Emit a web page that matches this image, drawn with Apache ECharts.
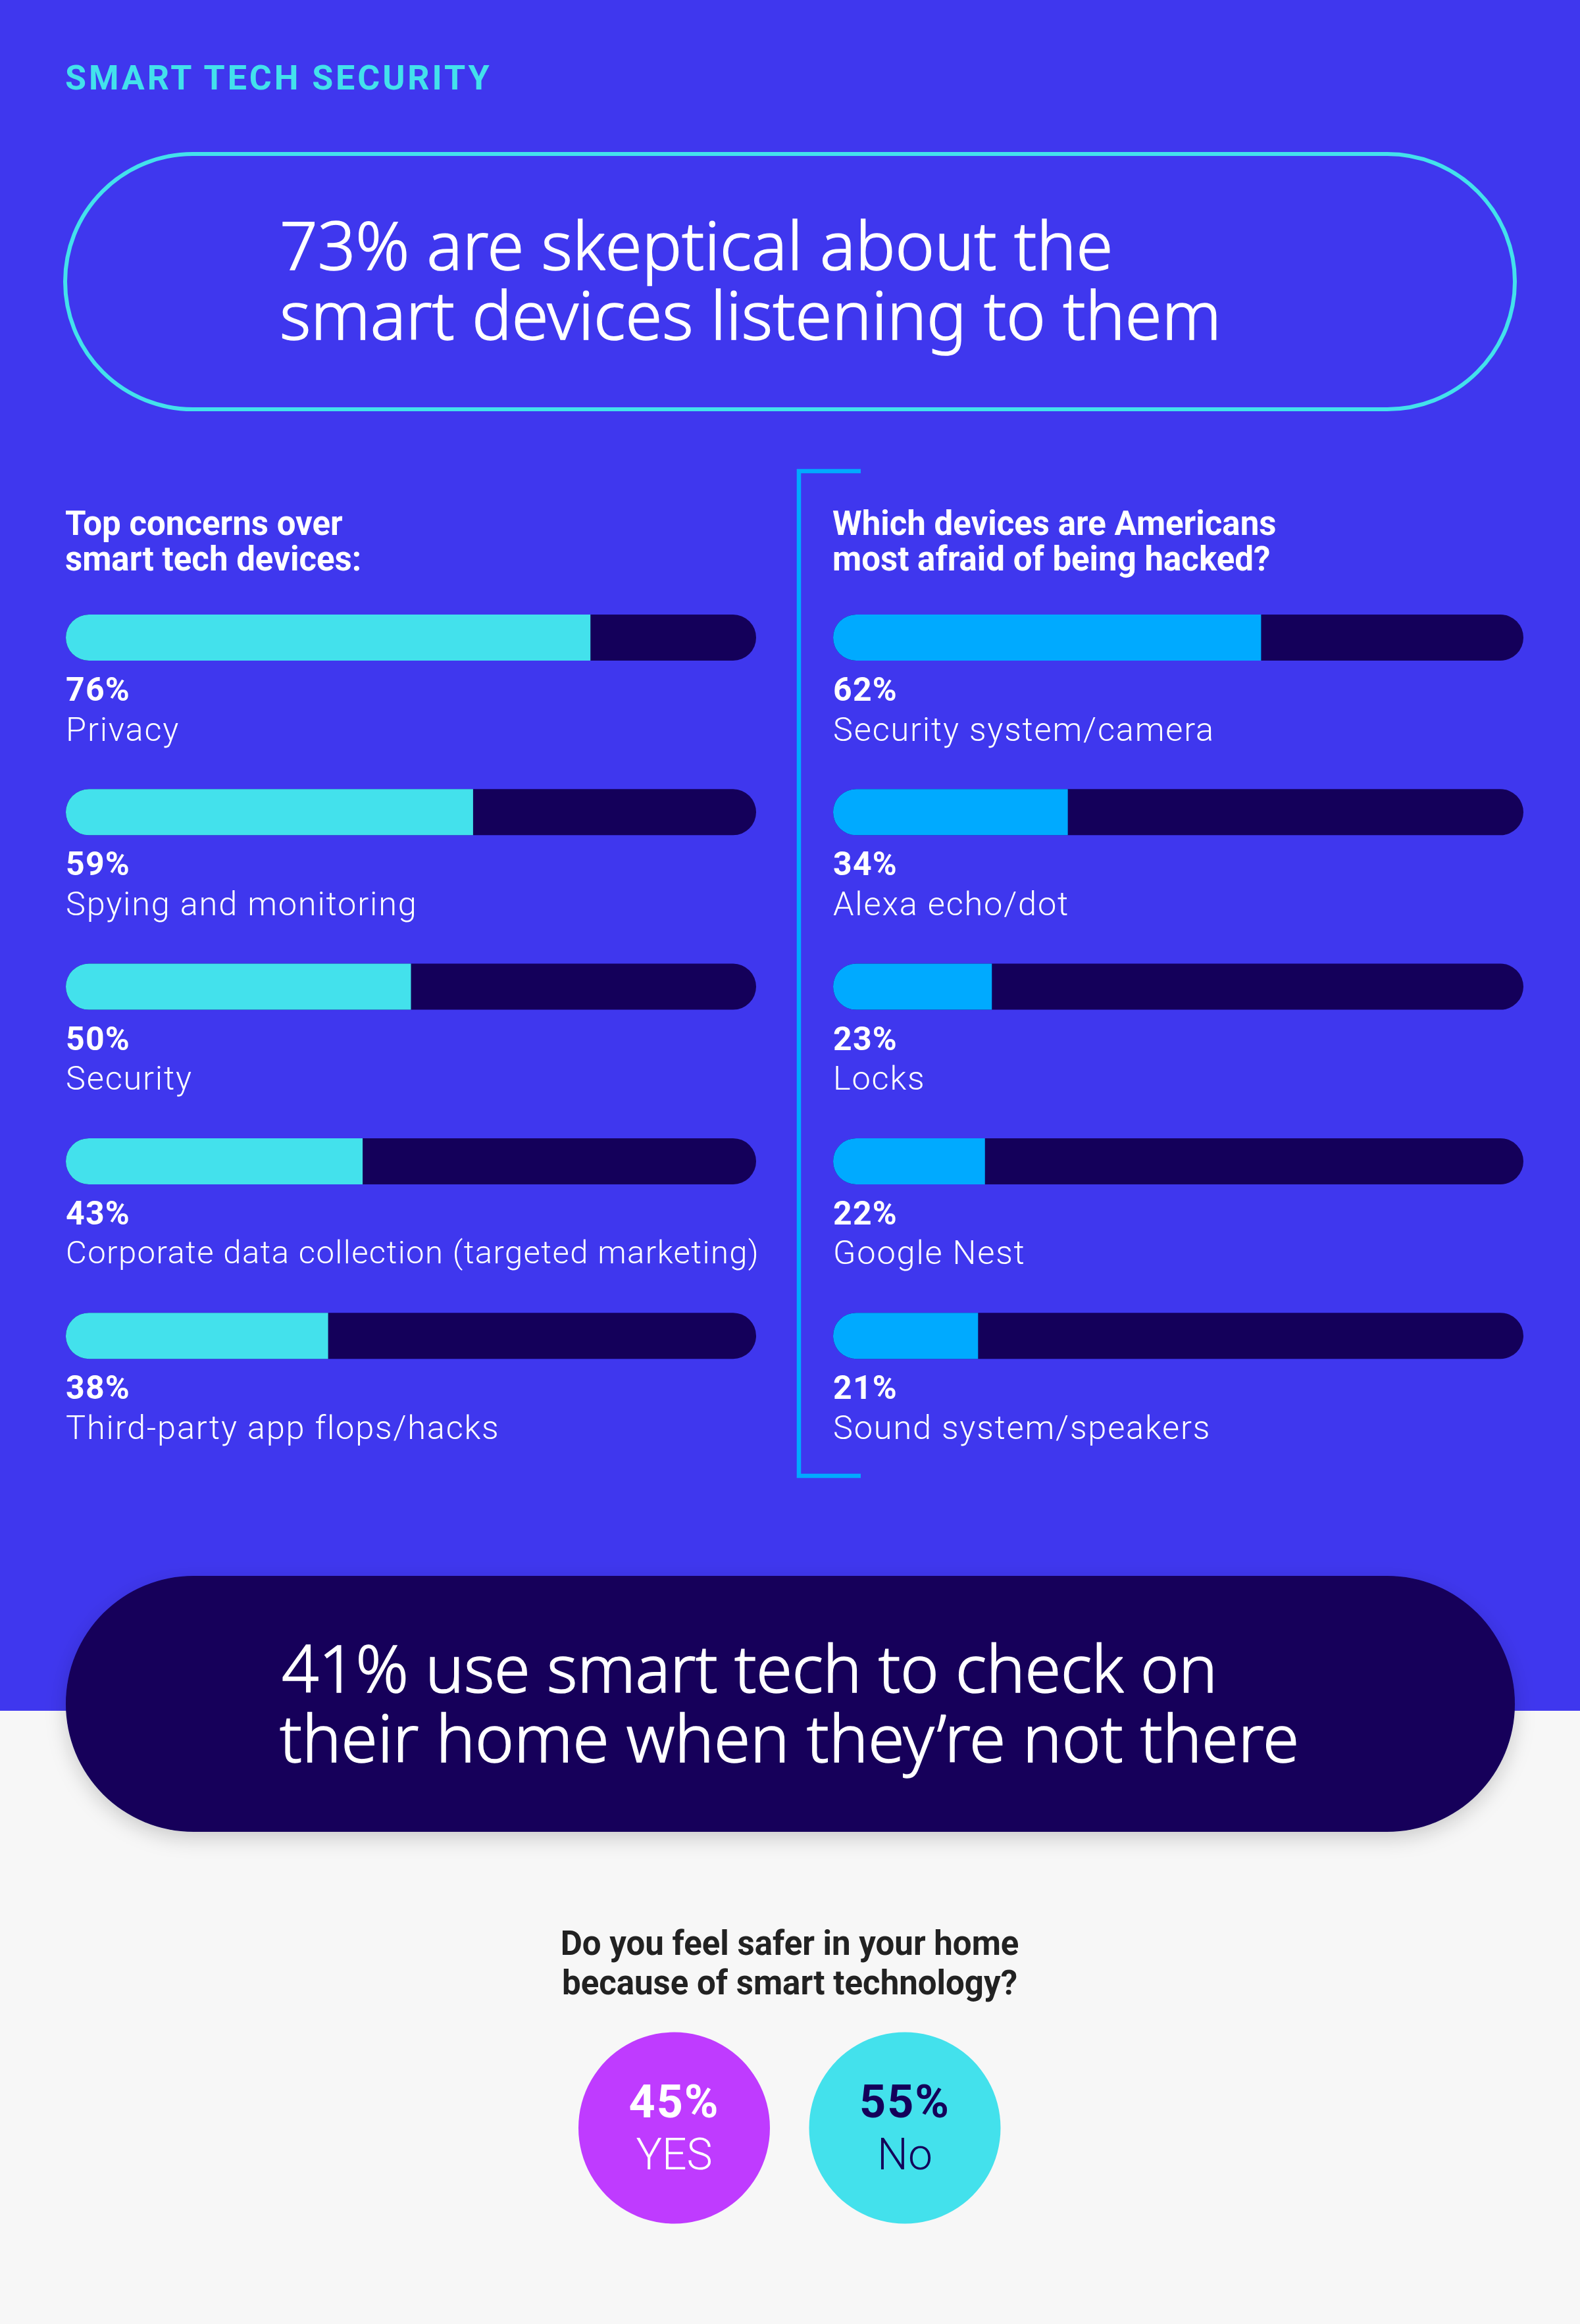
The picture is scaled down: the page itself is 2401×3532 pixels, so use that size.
<!DOCTYPE html>
<html>
<head>
<meta charset="utf-8">
<style>
  html, body { margin: 0; padding: 0; background: #f7f7f7; }
  #chart { width: 2401px; height: 3532px; }
  /* tracking, the svg renderer passes it on to the text nodes */
  #chart text[style*="52px"] { letter-spacing: 3.9px; }
  #chart text[style*=" 50px"] { letter-spacing: 1.2px; }
  #chart text[style*="50.5px"] { letter-spacing: 1.8px; }
  #chart text[style*="49px"] { letter-spacing: 1.4px; }
  #chart text[style*="70px"] { letter-spacing: 2px; }
  #chart text[style*="99px"] { letter-spacing: -0.25px; }
</style>
<script src="https://cdn.jsdelivr.net/npm/echarts@6/dist/echarts.min.js"></script>
</head>
<body>
<div id="chart"></div>
<script>
const concernNames = ['Privacy', 'Spying and monitoring', 'Security', 'Corporate data collection (targeted marketing)', 'Third-party app flops/hacks'];
const concernValues = [76, 59, 50, 43, 38];
const deviceNames = ['Security system/camera', 'Alexa echo/dot', 'Locks', 'Google Nest', 'Sound system/speakers'];
const deviceValues = [62, 34, 23, 22, 21];
const safeNames = ['YES', 'No'];
const safeValues = [45, 55];

const BLUE = '#3f37ee', NAVY = '#14005a', CYAN = '#43e1ec', SKY = '#00aaff', PURPLE = '#bf3bff';
const HEAD_FONT = '"Noto Sans"', BODY_FONT = 'Roboto';

const chart = echarts.init(document.getElementById('chart'), null, {renderer: 'svg'});

// one bar panel: hidden axes, track drawn by showBackground, text under the bar
function panelGrid(left) {
  return {left: left, width: 1049, top: 836.35, height: 1326.5};
}

function barSeries(index, names, values, color) {
  return {
    type: 'bar',
    xAxisIndex: index,
    yAxisIndex: index,
    barWidth: 70,
    showBackground: true,
    backgroundStyle: {color: NAVY, borderRadius: 35},
    itemStyle: {color: color, borderRadius: [35, 0, 0, 35]},
    data: values,
    label: {
      show: true,
      position: [0, 84],
      align: 'left',
      verticalAlign: 'top',
      formatter: (p) => {
        const name = names[p.dataIndex];
        // the long line sits tighter so it stays near the bar width
        const style = name.length > 40 ? 'tight' : 'name';
        return '{pct|' + p.value + '%}\n{' + style + '|' + name + '}';
      },
      rich: {
        pct: {fontFamily: BODY_FONT, fontWeight: 700, fontSize: 50, lineHeight: 60, color: '#fff'},
        name: {fontFamily: BODY_FONT, fontWeight: 300, fontSize: 50.5, lineHeight: 60, color: '#fff'},
        tight: {fontFamily: BODY_FONT, fontWeight: 300, fontSize: 49, lineHeight: 60, color: '#fff'}
      }
    }
  };
}

function safeLabel(color) {
  return {
    rich: {
      pct: {fontFamily: BODY_FONT, fontWeight: 700, fontSize: 70, lineHeight: 80, color: color, align: 'center'},
      name: {fontFamily: BODY_FONT, fontWeight: 300, fontSize: 66, lineHeight: 80, color: color, align: 'center'}
    }
  };
}

function headline(x, y, lines, size, weight, color, family, lineHeight, align) {
  return {
    type: 'text',
    x: x,
    y: y,
    silent: true,
    style: {
      text: lines.join('\n'),
      fontFamily: family,
      fontSize: size,
      fontWeight: weight,
      lineHeight: lineHeight,
      fill: color,
      align: align || 'left',
      verticalAlign: 'top'
    }
  };
}

// big pill text: light cut with a thin outline, the reference strokes are a bit heavier
function pillLine(x, y, lines, size) {
  const el = headline(x, y, lines, size, 300, '#fff', HEAD_FONT, 106);
  el.style.stroke = '#fff';
  el.style.lineWidth = 1.5;
  return el;
}

chart.setOption({
  animation: false,
  backgroundColor: '#f7f7f7',
  grid: [
    panelGrid(100),
    panelGrid(1266),
    {left: 849.25, width: 701, top: 3084, height: 300}
  ],
  xAxis: [
    {gridIndex: 0, type: 'value', min: 0, max: 100, show: false},
    {gridIndex: 1, type: 'value', min: 0, max: 100, show: false},
    {gridIndex: 2, type: 'category', data: safeNames, show: false}
  ],
  yAxis: [
    {gridIndex: 0, type: 'category', inverse: true, data: concernNames, show: false},
    {gridIndex: 1, type: 'category', inverse: true, data: deviceNames, show: false},
    {gridIndex: 2, type: 'category', data: ['safer'], show: false}
  ],
  series: [
    barSeries(0, concernNames, concernValues, CYAN),
    barSeries(1, deviceNames, deviceValues, SKY),
    {
      type: 'scatter',
      xAxisIndex: 2,
      yAxisIndex: 2,
      symbolSize: 291,
      itemStyle: {opacity: 1},
      data: safeValues.map((v, i) => ({
        value: [safeNames[i], 'safer', v],
        itemStyle: {color: i === 0 ? PURPLE : CYAN},
        label: safeLabel(i === 0 ? '#fff' : NAVY)
      })),
      label: {
        show: true,
        position: 'inside',
        formatter: (p) => '{pct|' + p.value[2] + '%}\n{name|' + p.value[0] + '}'
      }
    }
  ],
  graphic: {
    elements: [
      {type: 'rect', z: -10, silent: true, shape: {x: 0, y: 0, width: 2401, height: 2600}, style: {fill: BLUE}},
      // title pill
      {type: 'rect', silent: true, shape: {x: 99, y: 234, width: 2203, height: 388, r: 194}, style: {fill: 'none', stroke: CYAN, lineWidth: 6}},
      // bracket in front of the right panel
      {type: 'polyline', silent: true, shape: {points: [[1308, 716], [1214, 716], [1214, 2243], [1308, 2243]]}, style: {fill: 'none', stroke: SKY, lineWidth: 6.5}},
      // navy pill
      {type: 'rect', silent: true, shape: {x: 100, y: 2395, width: 2202, height: 389, r: 194}, style: {fill: NAVY, shadowBlur: 30, shadowColor: 'rgba(0,0,0,0.18)', shadowOffsetY: 10}},
      headline(99, 90, ['SMART TECH SECURITY'], 52, 700, CYAN, BODY_FONT, 56),
      pillLine(425, 318, ['73% are skeptical about the', 'smart devices listening to them'], 101),
      pillLine(428, 2480, ['41% use smart tech to check on'], 99),
      pillLine(425, 2586, ['their home when they\u2019re not there'], 100),
      headline(99, 768, ['Top concerns over', 'smart tech devices:'], 51, 700, '#fff', BODY_FONT, 54),
      headline(1265, 768, ['Which devices are Americans', 'most afraid of being hacked?'], 51, 700, '#fff', BODY_FONT, 54),
      headline(1200, 2923, ['Do you feel safer in your home', 'because of smart technology?'], 51, 700, '#222222', BODY_FONT, 60, 'center')
    ]
  }
});
</script>
</body>
</html>
